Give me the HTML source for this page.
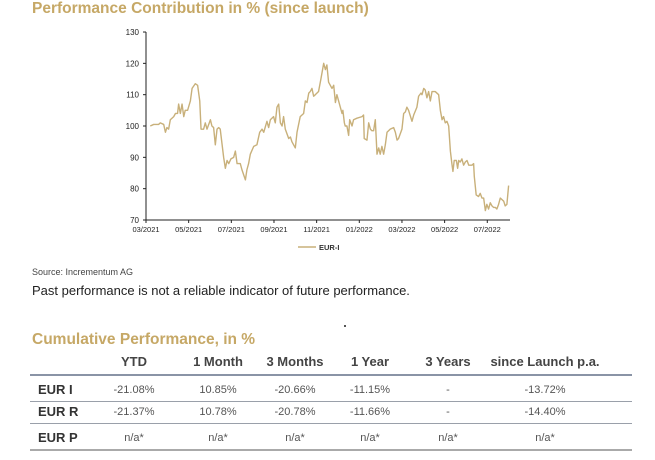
<!DOCTYPE html>
<html><head><meta charset="utf-8"><style>
body{margin:0;width:655px;height:460px;background:#fff;font-family:"Liberation Sans",Arial,sans-serif;position:relative;overflow:hidden}
.a{position:absolute;white-space:nowrap}
.t{color:#c6a866;font-weight:bold;font-size:15.5px}
.h{font-weight:bold;font-size:13px;color:#444;transform:translateX(-50%)}
.c{font-size:11px;color:#555;transform:translateX(-50%)}
.r{font-weight:bold;font-size:13px;color:#333;left:38px}
.ln{position:absolute;left:30px;width:602px}
</style></head><body>
<div class="a t" style="left:32px;top:0px">Performance Contribution in % (since launch)</div>
<svg id="chart" width="655" height="260" style="position:absolute;left:0;top:0"></svg>
<div class="a" style="left:32px;top:267px;font-size:9px;color:#444">Source: Incrementum AG</div>
<div class="a" style="left:32px;top:283px;font-size:13px;color:#222">Past performance is not a reliable indicator of future performance.</div>
<div class="a" style="left:344px;top:325px;width:2px;height:2px;background:#555"></div>
<div class="a t" style="left:32px;top:331px">Cumulative Performance, in %</div>
<div>
<div class="a h" style="left:134px;top:354px">YTD</div>
<div class="a h" style="left:218px;top:354px">1 Month</div>
<div class="a h" style="left:295px;top:354px">3 Months</div>
<div class="a h" style="left:370px;top:354px">1 Year</div>
<div class="a h" style="left:448px;top:354px">3 Years</div>
<div class="a h" style="left:545px;top:354px">since Launch p.a.</div>
<div class="ln" style="top:374px;height:2px;background:#8a94a6"></div>
<div class="a r" style="top:382px">EUR I</div>
<div class="a c" style="left:134px;top:384px">-21.08%</div>
<div class="a c" style="left:218px;top:384px">10.85%</div>
<div class="a c" style="left:295px;top:384px">-20.66%</div>
<div class="a c" style="left:370px;top:384px">-11.15%</div>
<div class="a c" style="left:448px;top:384px">-</div>
<div class="a c" style="left:545px;top:384px">-13.72%</div>
<div class="ln" style="top:401px;height:1px;background:#9aa0aa"></div>
<div class="a r" style="top:404px">EUR R</div>
<div class="a c" style="left:134px;top:406px">-21.37%</div>
<div class="a c" style="left:218px;top:406px">10.78%</div>
<div class="a c" style="left:295px;top:406px">-20.78%</div>
<div class="a c" style="left:370px;top:406px">-11.66%</div>
<div class="a c" style="left:448px;top:406px">-</div>
<div class="a c" style="left:545px;top:406px">-14.40%</div>
<div class="ln" style="top:423px;height:1px;background:#9aa0aa"></div>
<div class="a r" style="top:430px">EUR P</div>
<div class="a c" style="left:134px;top:432px">n/a*</div>
<div class="a c" style="left:218px;top:432px">n/a*</div>
<div class="a c" style="left:295px;top:432px">n/a*</div>
<div class="a c" style="left:370px;top:432px">n/a*</div>
<div class="a c" style="left:448px;top:432px">n/a*</div>
<div class="a c" style="left:545px;top:432px">n/a*</div>
<div class="ln" style="top:449px;height:2px;background:#aaa"></div>
</div>
<script>
const months=[0.20,0.36,0.59,0.67,0.83,0.91,0.98,1.06,1.14,1.30,1.38,1.48,1.53,1.61,1.69,1.77,1.84,1.95,2.08,2.16,2.31,2.42,2.52,2.58,2.70,2.78,2.86,3.02,3.09,3.17,3.25,3.33,3.41,3.48,3.64,3.72,3.80,3.88,3.98,4.11,4.19,4.27,4.42,4.50,4.66,4.73,4.81,4.89,5.05,5.20,5.33,5.44,5.52,5.67,5.75,5.83,5.98,6.06,6.14,6.22,6.30,6.38,6.45,6.53,6.69,6.77,6.84,6.92,7.00,7.08,7.23,7.39,7.47,7.55,7.63,7.70,7.78,7.86,7.94,8.09,8.20,8.33,8.41,8.48,8.56,8.64,8.72,8.80,8.88,8.95,9.03,9.11,9.19,9.23,9.30,9.34,9.42,9.50,9.55,9.66,9.73,9.89,10.13,10.20,10.23,10.36,10.44,10.52,10.59,10.67,10.75,10.83,10.91,10.98,11.06,11.14,11.22,11.30,11.45,11.61,11.69,11.77,11.84,12.00,12.08,12.16,12.23,12.31,12.47,12.55,12.70,12.78,12.89,12.94,13.02,13.09,13.17,13.25,13.33,13.41,13.56,13.72,13.80,13.88,13.95,14.03,14.11,14.19,14.27,14.34,14.39,14.45,14.55,14.61,14.66,14.73,14.81,14.89,14.97,15.05,15.13,15.28,15.36,15.39,15.48,15.59,15.67,15.75,15.83,15.91,15.98,16.06,16.14,16.22,16.30,16.38,16.45,16.53,16.61,16.69,16.77,16.84,16.92,17.00];
const values=[100,100.5,100.5,101,100.5,98,99.5,99,102,103,104,104,107,104,107,103,105,105,108,112,113.5,113,108,99,99,101,99,102,100,99.5,94,99,99.5,99,90,86.5,89,88,89.5,90,92,88,88,86,82.8,86,88,91,93.5,94,98,99,98,101.5,99.5,102,103,101,106,107,101,100,103,99,96,96.5,95,94,93,98,103,104,108,107.5,110.5,111,112,109.5,110,111,115,120,118,119.5,114,113,112,113,107.5,110,108,106,104,105,101,100,100,97,102,100,102,102.5,103,103.5,96,95.5,101,99,98.5,98.5,102,91,93,91,93.5,91,94,98,99,99.5,98,95.5,96,99,104,104.5,106,105,101.5,103.5,106,109.5,110.5,110,112,111.5,109,111,108,111,111,110,105,102,103,101,101.5,100,92,88,85.5,89,89,86.5,89,88.5,89.5,87.5,88.5,89,87.5,87.5,88,84,78,77.5,78.5,77,77,73,75,73.5,75.5,74.5,74,74,73.5,75,77,76.5,76,74.5,75,81];
const yTicks=[70,80,90,100,110,120,130];
const xTicks=["03/2021","05/2021","07/2021","09/2021","11/2021","01/2022","03/2022","05/2022","07/2022"];
const NS="http://www.w3.org/2000/svg",svg=document.getElementById('chart');
const X=m=>146+m*21.33, Y=v=>220-(v-70)*3.133;
function mk(t,a,p){const e=document.createElementNS(NS,t);for(const k in a)e.setAttribute(k,a[k]);(p||svg).appendChild(e);return e;}
const ax=mk('path',{d:`M146,32V220H510`,stroke:'#222','stroke-width':1,fill:'none'});


yTicks.forEach(v=>{
 mk('line',{x1:143,x2:146,y1:Y(v),y2:Y(v),stroke:'#222'});
 const t=mk('text',{x:139,y:Y(v)+3,'text-anchor':'end','font-size':8,fill:'#222'});t.textContent=v;
 
 
});
xTicks.forEach((s,i)=>{
 mk('line',{x1:X(i*2),x2:X(i*2),y1:220,y2:223,stroke:'#222'});
 const t=mk('text',{x:X(i*2),y:232,'text-anchor':'middle','font-size':7.5,fill:'#222'});t.textContent=s;
 
 
});
const line=mk('polyline',{points:months.map((m,i)=>X(m)+','+Y(values[i])).join(' '),fill:'none',stroke:'#c8b07a','stroke-width':1.4,'stroke-linejoin':'round'});


const lg=mk('line',{x1:298,x2:316,y1:247,y2:247,stroke:'#c8b07a','stroke-width':1.5});


const lt=mk('text',{x:319,y:250,'font-size':7.5,'font-weight':'bold',fill:'#333'});lt.textContent='EUR-I';


</script>
</body></html>
